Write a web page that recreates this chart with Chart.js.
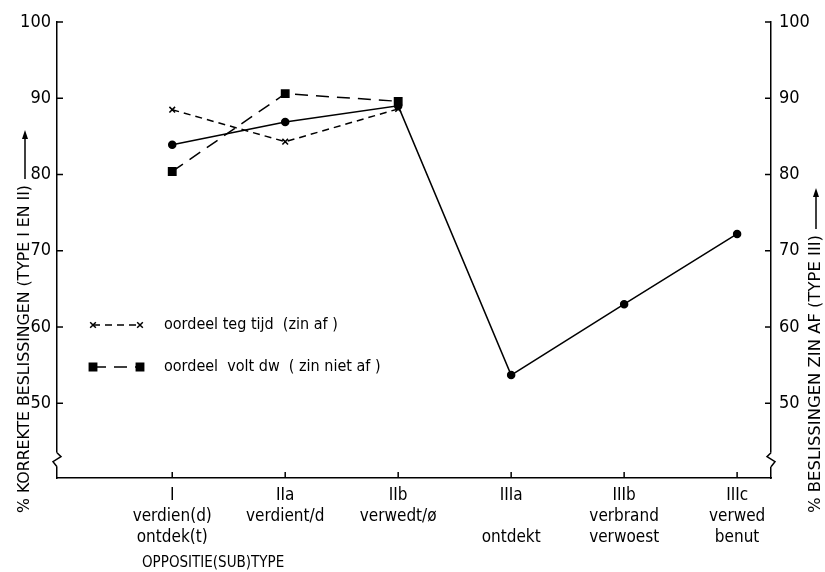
<!DOCTYPE html>
<html lang="nl">
<head>
    <meta charset="UTF-8">
    <title>Oppositie(sub)type</title>
    <script src="https://cdn.jsdelivr.net/npm/chart.js"></script>
    <style>
        body { margin: 0; background: #fff; }
        .chart-box { width: 825px; height: 572px; }
    </style>
</head>
<body>
    <div class="chart-box">
        <canvas id="oppChart"></canvas>
    </div>

    <script>
        // categories along the x axis
        const categories = ['I', 'IIa', 'IIb', 'IIIa', 'IIIb', 'IIIc'];
        const subLabels = [
            ['verdien(d)', 'ontdek(t)'],
            ['verdient/d'],
            ['verwedt/ø'],
            ['', 'ontdekt'],
            ['verbrand', 'verwoest'],
            ['verwed', 'benut']
        ];
        // % korrekte beslissingen (I, II) / % beslissingen zin af (III)
        const mainValues = [83.9, 86.9, 89.0, 53.7, 63.0, 72.2];
        // oordeel teg tijd (zin af)
        const tijdValues = [88.5, 84.3, 88.6, null, null, null];
        // oordeel volt dw (zin niet af)
        const voltValues = [80.4, 90.6, 89.6, null, null, null];
        const yTicks = [50, 60, 70, 80, 90, 100];
        const yMin = 40.2, yMax = 100, breakValue = 42.6;

        const FONT = "'Liberation Sans Narrow', 'DejaVu Sans Condensed', sans-serif";
        Chart.defaults.font.family = FONT;
        Chart.defaults.color = '#000';

        const toPoints = vals => vals.map((v, i) => ({ x: i, y: v })).filter(p => p.y !== null);

        const legendItems = [
            { text: 'oordeel teg tijd  (zin af )', ds: 1, y: 325 },
            { text: 'oordeel  volt dw  ( zin niet af )', ds: 2, y: 367 }
        ];

        function line(ctx, x1, y1, x2, y2) {
            ctx.beginPath();
            ctx.moveTo(x1, y1);
            ctx.lineTo(x2, y2);
            ctx.stroke();
        }

        const decor = {
            id: 'decor',
            afterDraw(chart) {
                const { ctx, chartArea: a, scales } = chart;
                const x = scales.x, y = scales.y;
                ctx.save();
                ctx.strokeStyle = '#000';
                ctx.fillStyle = '#000';
                ctx.lineWidth = 1.5;

                // inward tick marks
                y.ticks.forEach(t => {
                    const p = y.getPixelForValue(t.value);
                    line(ctx, a.left, p, a.left + 6, p);
                    line(ctx, a.right, p, a.right - 6, p);
                });
                x.ticks.forEach(t => {
                    const p = x.getPixelForValue(t.value);
                    line(ctx, p, a.bottom, p, a.bottom - 6);
                });

                // axis breaks
                const bp = y.getPixelForValue(breakValue);
                [[a.left, 1], [a.right, -1]].forEach(([ax, d]) => {
                    ctx.fillStyle = '#fff';
                    ctx.fillRect(ax - 3, bp - 7, 6, 14);
                    ctx.beginPath();
                    ctx.moveTo(ax, bp - 7);
                    ctx.lineTo(ax + 4 * d, bp - 3);
                    ctx.lineTo(ax - 4 * d, bp + 2);
                    ctx.lineTo(ax, bp + 7);
                    ctx.stroke();
                });
                ctx.fillStyle = '#000';

                // legend
                ctx.font = '16px ' + FONT;
                ctx.textBaseline = 'middle';
                ctx.textAlign = 'left';
                legendItems.forEach(item => {
                    const ds = chart.data.datasets[item.ds];
                    ctx.save();
                    ctx.setLineDash(ds.borderDash);
                    ctx.lineWidth = ds.borderWidth;
                    line(ctx, 93, item.y, 140, item.y);
                    ctx.restore();
                    const opts = { pointStyle: ds.pointStyle, radius: ds.pointRadius, borderWidth: ds.borderWidth, rotation: 0 };
                    Chart.helpers.drawPoint(ctx, opts, 93, item.y);
                    Chart.helpers.drawPoint(ctx, opts, 140, item.y);
                    ctx.fillText(item.text, 164, item.y);
                });

                // x axis caption
                ctx.font = '15px ' + FONT;
                ctx.fillText('OPPOSITIE(SUB)TYPE', 142, 563);

                // rotated axis titles with arrows
                const titles = [
                    { text: '% KORREKTE BESLISSINGEN (TYPE I EN II)', x: 25, len: 328, tip: 130 },
                    { text: '% BESLISSINGEN ZIN AF (TYPE III)', x: 816, len: 278, tip: 188 }
                ];
                ctx.font = '16px ' + FONT;
                titles.forEach(t => {
                    const w = ctx.measureText(t.text).width;
                    ctx.save();
                    ctx.translate(t.x, 513);
                    ctx.rotate(-Math.PI / 2);
                    ctx.scale(t.len / w, 1);
                    ctx.fillText(t.text, 0, 0);
                    ctx.restore();
                    const y0 = 513 - t.len - 6;
                    line(ctx, t.x, y0, t.x, t.tip + 6);
                    ctx.beginPath();
                    ctx.moveTo(t.x, t.tip);
                    ctx.lineTo(t.x - 3, t.tip + 9);
                    ctx.lineTo(t.x + 3, t.tip + 9);
                    ctx.closePath();
                    ctx.fill();
                });
                ctx.restore();
            }
        };

        const yScaleBase = {
            type: 'linear',
            min: yMin,
            max: yMax,
            afterBuildTicks: s => { s.ticks = yTicks.map(v => ({ value: v })); },
            grid: { display: false, drawTicks: false },
            border: { display: true, color: '#000', width: 1.5 },
            ticks: { font: { size: 18 }, color: '#000' }
        };

        new Chart(document.getElementById('oppChart'), {
            type: 'line',
            data: {
                datasets: [
                    {
                        label: 'beslissingen',
                        data: toPoints(mainValues),
                        borderColor: '#000',
                        backgroundColor: '#000',
                        borderWidth: 1.5,
                        pointStyle: 'circle',
                        pointRadius: 3.5,
                        borderDash: [],
                        tension: 0
                    },
                    {
                        label: 'oordeel teg tijd (zin af)',
                        data: toPoints(tijdValues),
                        borderColor: '#000',
                        backgroundColor: '#000',
                        borderWidth: 1.5,
                        pointStyle: 'crossRot',
                        pointRadius: 4,
                        borderDash: [7, 5],
                        tension: 0
                    },
                    {
                        label: 'oordeel volt dw (zin niet af)',
                        data: toPoints(voltValues),
                        borderColor: '#000',
                        backgroundColor: '#000',
                        borderWidth: 1.5,
                        pointStyle: 'rect',
                        pointRadius: 5.2,
                        borderDash: [13, 8],
                        tension: 0
                    }
                ]
            },
            options: {
                responsive: true,
                maintainAspectRatio: false,
                animation: false,
                layout: { padding: { top: 22, left: 0, right: 0, bottom: 0 } },
                plugins: {
                    legend: { display: false },
                    tooltip: { enabled: false }
                },
                scales: {
                    x: {
                        type: 'linear',
                        min: -1.02,
                        max: 5.3,
                        afterBuildTicks: s => { s.ticks = categories.map((c, i) => ({ value: i })); },
                        afterFit: s => { s.height = 94; },
                        grid: { display: false, drawTicks: false },
                        border: { display: true, color: '#000', width: 1.5 },
                        ticks: {
                            autoSkip: false,
                            maxRotation: 0,
                            padding: 7,
                            font: { size: 17, lineHeight: 1.24 },
                            callback: v => [categories[v], ...subLabels[v]]
                        }
                    },
                    y: Object.assign({}, yScaleBase, {
                        position: 'left',
                        afterFit: s => { s.width = 57; },
                        ticks: { font: { size: 18 }, color: '#000', padding: 6 }
                    }),
                    y1: Object.assign({}, yScaleBase, {
                        position: 'right',
                        afterFit: s => { s.width = 54; },
                        ticks: { font: { size: 18 }, color: '#000', padding: 8 }
                    })
                }
            },
            plugins: [decor]
        });
    </script>
</body>
</html>
